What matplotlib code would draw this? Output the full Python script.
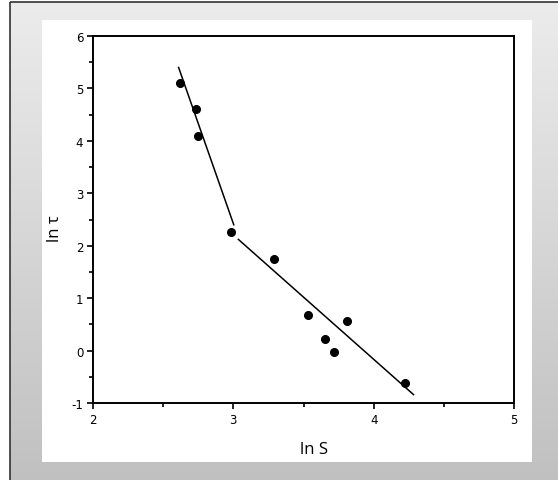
import numpy as np
import matplotlib.pyplot as plt
from matplotlib.patches import Rectangle
from matplotlib.ticker import MultipleLocator

plt.rcParams['axes.unicode_minus'] = False

# measured points (ln S, ln tau)
ln_s = [2.62, 2.737, 2.75, 2.986, 3.29, 3.53, 3.65, 3.72, 3.81, 4.225]
ln_tau = [5.10, 4.61, 4.09, 2.27, 1.74, 0.67, 0.23, -0.02, 0.56, -0.62]

# two fitted line segments
fit1_x = [2.61, 3.003]
fit1_y = [5.40, 2.40]
fit2_x = [3.036, 4.284]
fit2_y = [2.12, -0.84]

W, H = 558, 481
fig = plt.figure(figsize=(W / 100, H / 100), dpi=100)
fig.patch.set_facecolor('white')

# gray gradient frame with dark border, white card inside
bg = fig.add_axes([0, 0, 1, 1], zorder=0)
bg.axis('off')
grad = np.linspace(0, 1, 256).reshape(-1, 1)
bg.imshow(grad, cmap=plt.matplotlib.colors.LinearSegmentedColormap.from_list(
    'g', ['#ececec', '#c0c0c0']), extent=[10, W + 5, H + 5, 3], aspect='auto')
bg.add_patch(Rectangle((10, 3), W, H, fill=False, edgecolor='#333333', lw=1.2))
bg.add_patch(Rectangle((42, 21), 490, 442, facecolor='white', edgecolor='none'))
bg.set_xlim(0, W)
bg.set_ylim(H, 0)

ax = fig.add_axes([93 / W, 1 - 404 / H, (514 - 93) / W, (404 - 37) / H], zorder=1)
ax.patch.set_alpha(0)
ax.plot(ln_s, ln_tau, 'o', color='black', markersize=5.5)
ax.plot(fit1_x, fit1_y, color='black', lw=1.1)
ax.plot(fit2_x, fit2_y, color='black', lw=1.1)

ax.set_xlim(2, 5)
ax.set_ylim(-1, 6)
ax.xaxis.set_major_locator(MultipleLocator(1))
ax.yaxis.set_major_locator(MultipleLocator(1))
ax.xaxis.set_minor_locator(MultipleLocator(0.5))
ax.yaxis.set_minor_locator(MultipleLocator(0.5))
ax.tick_params(which='both', direction='out', length=4, width=1.2, labelsize=8.5,
               color='black', pad=3)
ax.tick_params(which='minor', length=3)
for s in ax.spines.values():
    s.set_linewidth(1.4)

fig.text(314 / W, 1 - 450 / H, 'ln S', ha='center', va='center', fontsize=12,
         family='Open Sans')
fig.text(55 / W, 1 - 229 / H, 'ln \u03c4', ha='center', va='center', fontsize=12,
         rotation=90, family='Open Sans')

fig.savefig('out.png', dpi=100)
